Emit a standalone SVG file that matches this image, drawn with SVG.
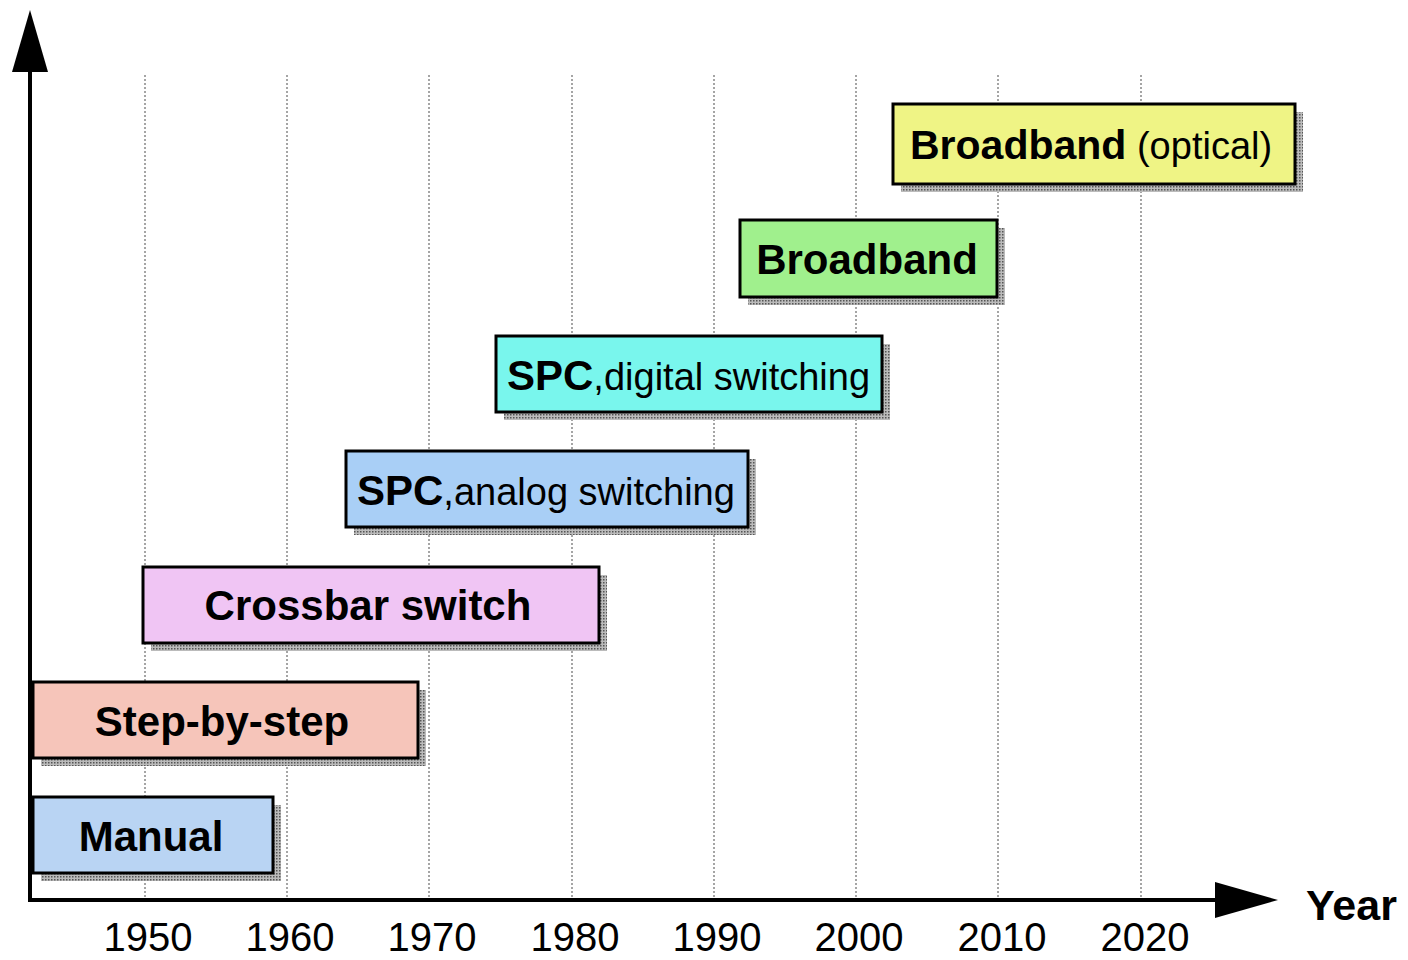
<svg xmlns="http://www.w3.org/2000/svg" width="1408" height="960" viewBox="0 0 1408 960">
<defs>
<pattern id="dots" width="3" height="3" patternUnits="userSpaceOnUse">
<rect width="3" height="3" fill="#bbb"/>
<rect width="1.5" height="1.5" fill="#555"/>
</pattern>
</defs>
<style>
.grid{stroke:#888;stroke-width:1.5;stroke-dasharray:2 2;fill:none}
.axis{stroke:#000;stroke-width:4;fill:none}
.shadow{fill:url(#dots)}
.box{stroke:#000;stroke-width:3}
.lbl{font-family:"Liberation Sans",Arial,sans-serif;font-size:38px;fill:#000}
.b{font-weight:bold;font-size:42px}
.yr{font-family:"Liberation Sans",Arial,sans-serif;font-size:40px;fill:#000;text-anchor:middle}
</style>
<rect width="1408" height="960" fill="#fff"/>
<g id="grid">
<line class="grid" x1="145" y1="75" x2="145" y2="898"/>
<line class="grid" x1="287" y1="75" x2="287" y2="898"/>
<line class="grid" x1="429" y1="75" x2="429" y2="898"/>
<line class="grid" x1="572" y1="75" x2="572" y2="898"/>
<line class="grid" x1="714" y1="75" x2="714" y2="898"/>
<line class="grid" x1="856" y1="75" x2="856" y2="898"/>
<line class="grid" x1="998" y1="75" x2="998" y2="898"/>
<line class="grid" x1="1141" y1="75" x2="1141" y2="898"/>
</g>
<g id="axes">
<line class="axis" x1="30" y1="60" x2="30" y2="900"/>
<polygon points="30,10 12,72 48,72" fill="#000"/>
<line class="axis" x1="28" y1="900" x2="1225" y2="900"/>
<polygon points="1278,900 1215,882 1215,918" fill="#000"/>
<text class="lbl b" x="1306" y="920" style="font-size:43px">Year</text>
</g>
<g id="years">
<text class="yr" x="148" y="951">1950</text>
<text class="yr" x="290" y="951">1960</text>
<text class="yr" x="432" y="951">1970</text>
<text class="yr" x="575" y="951">1980</text>
<text class="yr" x="717" y="951">1990</text>
<text class="yr" x="859" y="951">2000</text>
<text class="yr" x="1002" y="951">2010</text>
<text class="yr" x="1145" y="951">2020</text>
</g>
<g id="manual">
<rect class="shadow" x="41" y="805" width="240" height="76"/>
<rect class="box" x="33" y="797" width="240" height="76" fill="#b9d4f3"/>
<text class="lbl b" x="151" y="851" text-anchor="middle">Manual</text>
</g>
<g id="step">
<rect class="shadow" x="41" y="690" width="385" height="76"/>
<rect class="box" x="33" y="682" width="385" height="76" fill="#f6c5ba"/>
<text class="lbl b" x="222" y="736" text-anchor="middle">Step-by-step</text>
</g>
<g id="crossbar">
<rect class="shadow" x="151" y="575" width="456" height="76"/>
<rect class="box" x="143" y="567" width="456" height="76" fill="#f0c5f4"/>
<text class="lbl b" x="368" y="620" text-anchor="middle">Crossbar switch</text>
</g>
<g id="spc-analog">
<rect class="shadow" x="354" y="459" width="402" height="76"/>
<rect class="box" x="346" y="451" width="402" height="76" fill="#a9cff6"/>
<text class="lbl" x="357" y="505"><tspan class="b">SPC</tspan>,analog switching</text>
</g>
<g id="spc-digital">
<rect class="shadow" x="504" y="344" width="386" height="76"/>
<rect class="box" x="496" y="336" width="386" height="76" fill="#79f6ed"/>
<text class="lbl" x="507" y="390"><tspan class="b">SPC</tspan>,digital switching</text>
</g>
<g id="broadband">
<rect class="shadow" x="748" y="228" width="257" height="77"/>
<rect class="box" x="740" y="220" width="257" height="77" fill="#a0f08d"/>
<text class="lbl b" x="867" y="274" text-anchor="middle">Broadband</text>
</g>
<g id="broadband-optical">
<rect class="shadow" x="901" y="112" width="402" height="80"/>
<rect class="box" x="893" y="104" width="402" height="80" fill="#eff485"/>
<text class="lbl" x="910" y="159"><tspan class="b" style="font-size:41px">Broadband</tspan> (optical)</text>
</g>
</svg>
